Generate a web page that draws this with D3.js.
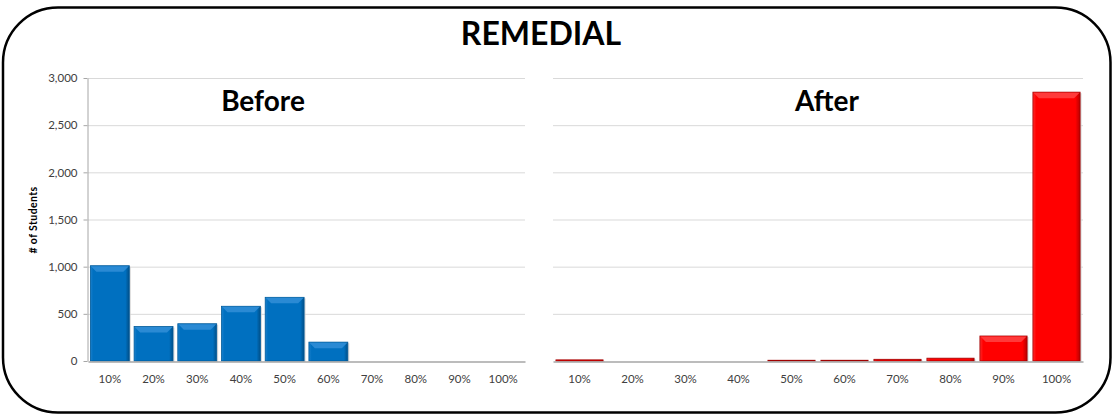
<!DOCTYPE html>
<html>
<head>
<meta charset="utf-8">
<script src="https://cdn.jsdelivr.net/npm/d3@7"></script>
<style>
  body { margin: 0; background: #fff; }
  svg text { font-family: Lato, "Open Sans", sans-serif; }
</style>
</head>
<body>
<div id="chart"></div>
<script>
// data
var categories = ["10%", "20%", "30%", "40%", "50%", "60%", "70%", "80%", "90%", "100%"];
var beforeValues = [1010, 365, 395, 580, 675, 200, 0, 0, 0, 0];
var afterValues = [12, 0, 0, 0, 8, 8, 18, 30, 265, 2850];
var yTicks = [0, 500, 1000, 1500, 2000, 2500, 3000];

function drawChart() {
  var w = 1114;
  var h = 417;

  var svg = d3.select("#chart")
    .append("svg")
    .attr("width", w)
    .attr("height", h);

  var defs = svg.append("defs");

  // bevel gradients for the bars
  function bevel(id, light, base, dark) {
    var g = defs.append("linearGradient")
      .attr("id", id)
      .attr("x1", "0").attr("y1", "0").attr("x2", "1").attr("y2", "0");
    g.append("stop").attr("offset", "0").attr("stop-color", light);
    g.append("stop").attr("offset", "0.07").attr("stop-color", base);
    g.append("stop").attr("offset", "0.9").attr("stop-color", base);
    g.append("stop").attr("offset", "1").attr("stop-color", dark);
  }
  bevel("blueBody", "#1a80cc", "#0070c0", "#004f88");
  bevel("redBody", "#ff2a2a", "#ff0000", "#b80000");

  // outer rounded frame
  svg.append("rect")
    .attr("x", 3)
    .attr("y", 7.5)
    .attr("width", 1107.5)
    .attr("height", 405)
    .attr("rx", 55)
    .attr("ry", 55)
    .attr("fill", "#fff")
    .attr("stroke", "#000")
    .attr("stroke-width", 2.5);

  svg.append("text")
    .attr("x", 541)
    .attr("y", 45)
    .attr("text-anchor", "middle")
    .attr("font-size", "32px")
    .attr("font-weight", "bold")
    .attr("fill", "#000")
    .text("REMEDIAL");

  var yScale = d3.scaleLinear()
    .domain([0, 3000])
    .range([361, 78]);

  function panel(values, x0, x1, title, titleX, colors, showAxis) {
    var xScale = d3.scaleBand()
      .domain(categories)
      .range([x0, x1])
      .paddingInner(0.11)
      .paddingOuter(0.055);

    var g = svg.append("g");

    // gridlines
    g.append("g")
      .selectAll("line")
      .data(yTicks.slice(1))
      .enter()
      .append("line")
      .attr("x1", x0)
      .attr("x2", x1)
      .attr("y1", function (d) { return yScale(d) + 0.5; })
      .attr("y2", function (d) { return yScale(d) + 0.5; })
      .attr("stroke", "#d9d9d9")
      .attr("stroke-width", 1);

    if (showAxis) {
      var yAxis = d3.axisLeft(yScale)
        .tickValues(yTicks)
        .tickFormat(d3.format(","))
        .tickSize(4)
        .tickSizeOuter(0)
        .tickPadding(6);
      var ya = g.append("g")
        .attr("transform", "translate(" + (x0 - 0.5) + ",0)")
        .call(yAxis);
      ya.select(".domain").attr("stroke", "#a6a6a6");
      ya.selectAll(".tick line").attr("stroke", "#a6a6a6");
      ya.selectAll(".tick text")
        .attr("font-family", "Lato, sans-serif")
        .attr("font-size", "11.5px")
        .attr("fill", "#404040");
    }

    // bars
    var bars = g.append("g")
      .selectAll("g.bar")
      .data(values)
      .enter()
      .append("g")
      .attr("class", "bar");

    // soft shadow
    bars.append("rect")
      .attr("x", function (d, i) { return xScale(categories[i]) + 1.5; })
      .attr("y", function (d) { return yScale(d) + 1; })
      .attr("width", xScale.bandwidth())
      .attr("height", function (d) { return yScale(0) - yScale(d); })
      .attr("fill", "#cfcfcf")
      .attr("opacity", function (d) { return d > 0 ? 0.8 : 0; });

    bars.append("rect")
      .attr("x", function (d, i) { return xScale(categories[i]); })
      .attr("y", function (d) { return yScale(d); })
      .attr("width", xScale.bandwidth())
      .attr("height", function (d) { return yScale(0) - yScale(d); })
      .attr("fill", "url(#" + colors.body + ")")
      .attr("stroke", colors.edge)
      .attr("stroke-width", 0.8)
      .attr("opacity", function (d) { return d > 0 ? 1 : 0; });

    // top bevel highlight
    bars.append("path")
      .attr("d", function (d, i) {
        var bh = yScale(0) - yScale(d);
        if (bh < 4) return null;
        var bx = xScale(categories[i]);
        var by = yScale(d);
        var bw = xScale.bandwidth();
        var t = Math.min(6, bh / 2);
        return "M" + (bx + 0.5) + "," + (by + 0.5) +
          "L" + (bx + bw - 0.5) + "," + (by + 0.5) +
          "L" + (bx + bw - t) + "," + (by + t) +
          "L" + (bx + t) + "," + (by + t) + "Z";
      })
      .attr("fill", colors.top);

    // x axis
    var xAxis = d3.axisBottom(xScale)
      .tickSize(0)
      .tickPadding(13);
    var xa = g.append("g")
      .attr("transform", "translate(0," + (yScale(0) + 0.5) + ")")
      .call(xAxis);
    xa.select(".domain").attr("stroke", "#a6a6a6").attr("stroke-width", 1.5);
    xa.selectAll(".tick text")
      .attr("font-family", "Lato, sans-serif")
      .attr("font-size", "11.5px")
      .attr("fill", "#404040");

    g.append("text")
      .attr("x", titleX)
      .attr("y", 111)
      .attr("text-anchor", "middle")
      .attr("font-size", "28px")
      .attr("font-weight", "bold")
      .attr("fill", "#000")
      .text(title);
  }

  panel(beforeValues, 88, 525, "Before", 263,
    { body: "blueBody", edge: "#005a9a", top: "#2a8ad4" }, true);
  panel(afterValues, 553, 1083, "After", 827,
    { body: "redBody", edge: "#a00000", top: "#ff3a3a" }, false);

  // y axis title
  svg.append("text")
    .attr("transform", "translate(37,220) rotate(-90)")
    .attr("text-anchor", "middle")
    .attr("font-size", "10.5px")
    .attr("font-weight", "bold")
    .attr("letter-spacing", "0.4px")
    .attr("fill", "#000")
    .text("# of Students");
}

window.onload = function () {
  drawChart();
};
</script>
</body>
</html>
